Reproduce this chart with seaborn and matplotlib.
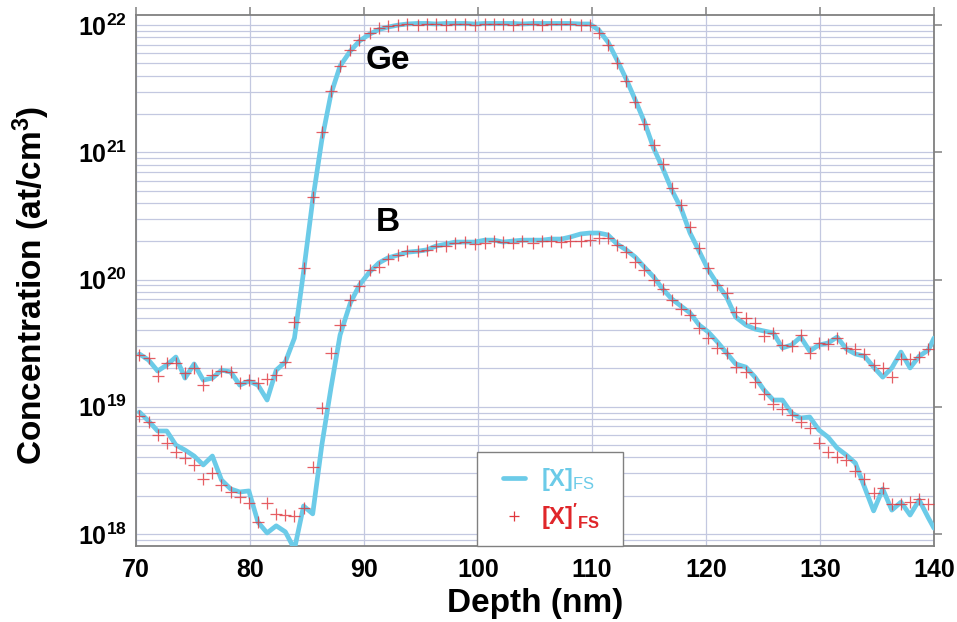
import numpy as np
import pandas as pd
import matplotlib
matplotlib.use("Agg")
import matplotlib.pyplot as plt
from matplotlib.ticker import FixedLocator, LogLocator, NullFormatter
from matplotlib.lines import Line2D
from matplotlib.legend_handler import HandlerLine2D
import seaborn as sns

# ---- depth profile data (nm, at/cm^3) ----
depth = [70.3, 71.1, 71.9, 72.7, 73.5, 74.3, 75.1, 75.9, 76.7, 77.5, 78.3, 79.1, 79.9, 80.7,
         81.5, 82.3, 83.1, 83.9, 84.7, 85.5, 86.3, 87.1,
         87.9, 88.8, 89.6, 90.5, 91.3, 92.1, 93.0, 93.8, 94.7, 95.5, 96.3, 97.2, 98.0, 98.9,
         99.7, 100.6, 101.4, 102.2, 103.1, 103.9, 104.8, 105.6, 106.4, 107.3, 108.1, 109.0, 109.8,
         110.6, 111.4, 112.2, 113.0, 113.8, 114.6, 115.4, 116.2, 117.0, 117.8, 118.6, 119.4,
         120.2, 121.0, 121.8, 122.6, 123.5, 124.3, 125.1, 125.9, 126.7, 127.5, 128.3, 129.1,
         129.9, 130.7, 131.5, 132.3, 133.1, 133.9, 134.7, 135.5, 136.3, 137.1, 137.9, 138.7,
         139.5, 140.0]

ge_fs = [2.60e19, 2.33e19, 1.91e19, 2.13e19, 2.46e19, 1.68e19, 2.17e19, 1.62e19, 1.68e19, 1.94e19,
         1.88e19, 1.48e19, 1.59e19, 1.48e19, 1.13e19, 1.94e19, 2.25e19, 3.47e19, 1.15e20, 4.21e20,
         1.25e21, 2.87e21, 4.76e21, 6.25e21, 7.49e21, 8.50e21, 9.22e21, 9.64e21, 1.00e22,
         1.02e22, 1.03e22, 1.03e22, 1.02e22, 1.03e22, 1.03e22, 1.03e22, 1.02e22, 1.03e22, 1.03e22,
         1.03e22, 1.03e22, 1.02e22, 1.03e22, 1.03e22, 1.03e22, 1.03e22, 1.03e22, 1.02e22, 1.02e22,
         9.13e21, 7.35e21, 5.31e21, 3.76e21, 2.57e21, 1.73e21, 1.08e21, 7.52e20, 5.05e20, 3.65e20,
         2.32e20, 1.67e20, 1.19e20, 9.20e19, 7.30e19, 5.07e19, 4.39e19, 4.08e19, 3.94e19, 3.80e19,
         2.90e19, 3.06e19, 3.53e19, 2.74e19, 3.06e19, 3.17e19, 3.53e19, 2.85e19, 2.60e19, 2.50e19,
         2.05e19, 1.71e19, 2.02e19, 2.69e19, 2.02e19, 2.50e19, 2.79e19, 3.47e19]

ge_fs_prime = [2.55e19, 2.42e19, 1.75e19, 2.21e19, 2.20e19, 1.84e19, 2.02e19, 1.48e19, 1.78e19, 1.91e19,
               1.88e19, 1.54e19, 1.62e19, 1.54e19, 1.65e19, 1.78e19, 2.25e19, 4.63e19, 1.23e20, 4.45e20,
               1.44e21, 3.03e21, 4.76e21, 6.36e21, 7.62e21, 8.65e21, 9.47e21, 9.82e21, 1.00e22,
               1.02e22, 1.01e22, 1.02e22, 1.02e22, 1.01e22, 1.02e22, 1.02e22, 1.01e22, 1.02e22, 1.02e22,
               1.02e22, 1.01e22, 1.02e22, 1.02e22, 1.01e22, 1.02e22, 1.02e22, 1.02e22, 1.01e22, 1.00e22,
               8.70e21, 6.97e21, 5.03e21, 3.63e21, 2.48e21, 1.67e21, 1.14e21, 8.09e20, 5.24e20, 3.85e20,
               2.59e20, 1.77e20, 1.23e20, 9.05e19, 7.83e19, 5.55e19, 4.98e19, 4.55e19, 3.60e19, 3.80e19,
               3.06e19, 3.00e19, 3.66e19, 2.65e19, 3.17e19, 3.11e19, 3.47e19, 2.90e19, 2.85e19, 2.60e19,
               2.13e19, 2.02e19, 1.71e19, 2.37e19, 2.37e19, 2.46e19, 2.84e19, np.nan]

b_fs = [9.09e18, 7.73e18, 6.45e18, 6.45e18, 5.00e18, 4.57e18, 4.10e18, 3.49e18, 4.10e18, 2.66e18,
        2.26e18, 2.14e18, 2.18e18, 1.24e18, 1.02e18, 1.16e18, 1.04e18, 7.60e17, 1.66e18, 1.44e18,
        5.00e18, 1.40e19, 3.66e19, 6.54e19, 9.05e19, 1.15e20, 1.35e20, 1.48e20, 1.56e20, 1.64e20,
        1.67e20, 1.71e20, 1.83e20, 1.90e20, 1.97e20, 1.97e20, 1.97e20, 2.04e20, 2.04e20, 1.97e20,
        2.01e20, 2.04e20, 2.04e20, 2.04e20, 2.08e20, 2.08e20, 2.16e20, 2.28e20, 2.32e20, 2.32e20,
        2.24e20, 1.90e20, 1.71e20, 1.50e20, 1.25e20, 1.05e20, 8.42e19, 7.03e19, 6.19e19, 5.46e19,
        4.39e19, 3.87e19, 3.23e19, 2.65e19, 2.17e19, 2.05e19, 1.71e19, 1.35e19, 1.13e19, 1.13e19,
        8.93e18, 8.16e18, 8.31e18, 6.57e18, 5.78e18, 4.74e18, 4.18e18, 3.61e18, 2.34e18, 1.52e18,
        2.26e18, 1.54e18, 1.78e18, 1.41e18, 1.85e18, 1.34e18, 1.11e18]

b_fs_prime = [8.46e18, 7.59e18, 6.00e18, 5.19e18, 4.41e18, 3.96e18, 3.49e18, 2.70e18, 3.00e18, 2.43e18,
              2.14e18, 1.95e18, 1.75e18, 1.24e18, 1.75e18, 1.44e18, 1.41e18, 1.39e18, 1.60e18, 3.36e18,
              9.78e18, 2.65e19, 4.39e19, 6.90e19, 8.89e19, 1.19e20, 1.25e20, 1.45e20, 1.56e20, 1.67e20,
              1.67e20, 1.71e20, 1.83e20, 1.83e20, 1.94e20, 1.97e20, 1.90e20, 1.94e20, 2.01e20, 1.97e20,
              1.94e20, 2.01e20, 1.94e20, 2.01e20, 2.01e20, 1.97e20, 2.01e20, 2.01e20, 2.04e20, 2.12e20,
              2.12e20, 1.87e20, 1.64e20, 1.37e20, 1.19e20, 9.90e19, 8.42e19, 6.90e19, 5.86e19, 5.26e19,
              4.16e19, 3.47e19, 2.90e19, 2.65e19, 2.05e19, 1.87e19, 1.56e19, 1.26e19, 1.05e19, 9.60e18,
              8.60e18, 7.59e18, 6.81e18, 5.19e18, 4.41e18, 4.03e18, 3.82e18, 3.13e18, 2.70e18, 2.10e18,
              2.30e18, 1.72e18, 1.72e18, 1.78e18, 1.88e18, 1.72e18, np.nan]

x_ticks = [70, 80, 90, 100, 110, 120, 130, 140]
x_tick_labels = ["70", "80", "90", "100", "110", "120", "130", "140"]
y_ticks = [1e18, 1e19, 1e20, 1e21, 1e22]
y_tick_labels = [r"$\mathbf{10}^{\mathbf{18}}$", r"$\mathbf{10}^{\mathbf{19}}$",
                 r"$\mathbf{10}^{\mathbf{20}}$", r"$\mathbf{10}^{\mathbf{21}}$",
                 r"$\mathbf{10}^{\mathbf{22}}$"]
species_labels = {"Ge": (90.1, 5.3e21), "B": (91.0, 2.83e20)}
legend_labels = [r"$\mathbf{[X]}_{\mathrm{FS}}$", r"$\mathbf{[X]'}_{\mathbf{FS}}$"]

# ---- styling ----
sns.set_theme(style="white")
plt.rcParams["font.family"] = ["Liberation Sans", "DejaVu Sans"]
plt.rcParams["mathtext.fontset"] = "custom"
plt.rcParams["mathtext.rm"] = "Liberation Sans"
plt.rcParams["mathtext.bf"] = "Liberation Sans:bold"
plt.rcParams["mathtext.it"] = "Liberation Sans:italic"
plt.rcParams["mathtext.fallback"] = "stix"
plt.rcParams["text.color"] = "black"
plt.rcParams["axes.labelcolor"] = "black"

LINE_C = "#6ccbe8"
MARK_C = "#e0363c"
GRID_C = "#c3c8e0"
SPINE_C = "#808080"

df = pd.DataFrame({"depth": depth, "ge": ge_fs, "ge_p": ge_fs_prime, "b": b_fs, "b_p": b_fs_prime})

fig = plt.figure(figsize=(9.57, 6.22), dpi=100)
ax = fig.add_axes([0.1421, 0.1222, 0.8339, 0.8537])

for col in ["ge", "b"]:
    sns.lineplot(data=df, x="depth", y=col, ax=ax, color=LINE_C, linewidth=3.4,
                 sort=False, estimator=None, zorder=3, legend=False)
for col in ["ge_p", "b_p"]:
    sns.scatterplot(data=df.dropna(subset=[col]), x="depth", y=col, ax=ax, marker="+",
                    s=64, color=MARK_C, linewidth=0.9, alpha=0.8, zorder=4, legend=False)

ax.set_yscale("log")
ax.set_xlim(70, 140)
ax.set_ylim(8.05e17, 1.2e22)

ax.xaxis.set_major_locator(FixedLocator(x_ticks))
ax.set_xticklabels(x_tick_labels, fontsize=18, fontweight="bold")
ax.yaxis.set_major_locator(FixedLocator(y_ticks))
ax.set_yticklabels(y_tick_labels, fontsize=18)
ax.yaxis.set_minor_locator(LogLocator(base=10, subs=np.arange(2, 10)))
ax.yaxis.set_minor_formatter(NullFormatter())

ax.grid(True, which="major", axis="x", color=GRID_C, linewidth=0.9)
ax.grid(True, which="both", axis="y", color=GRID_C, linewidth=0.9)
ax.set_axisbelow(True)

ax.tick_params(which="major", direction="out", length=6, width=1.1, color=SPINE_C,
               labelcolor="black", top=True, right=True, labeltop=False, labelright=False)
ax.tick_params(axis="y", which="major", pad=0.5)
ax.tick_params(axis="x", which="major", pad=3)
ax.tick_params(which="minor", length=0)
for s in ax.spines.values():
    s.set_color(SPINE_C)
    s.set_linewidth(1.3)

ax.set_xlabel("Depth (nm)", fontsize=24, fontweight="bold", labelpad=4, color="black")
ax.set_ylabel(r"Concentration (at/cm$^{\mathbf{3}}$)", fontsize=24, fontweight="bold", color="black")
ax.yaxis.set_label_coords(-0.105, 0.49)

for name, (xx, yy) in species_labels.items():
    ax.text(xx, yy, name, fontsize=24, fontweight="bold", ha="left", va="center", color="black", zorder=5)

handles = [Line2D([], [], color=LINE_C, linewidth=3.4),
           Line2D([], [], color=MARK_C, marker="+", linestyle="none", markersize=7, markeredgewidth=0.9)]
leg = ax.legend(handles, legend_labels, loc="lower left",
                bbox_to_anchor=(0.427, 0.0, 0.183, 0.177), mode="expand",
                frameon=True, fancybox=False, shadow=False, fontsize=17,
                handlelength=1.45, handletextpad=0.65, borderpad=0.6, borderaxespad=0.0,
                labelspacing=0.35,
                handler_map={Line2D: HandlerLine2D(xpad=0.5)})
leg.get_frame().set_edgecolor(SPINE_C)
leg.get_frame().set_linewidth(1.0)
leg.get_frame().set_facecolor("white")
leg.get_frame().set_alpha(1.0)
leg.get_texts()[0].set_color(LINE_C)
leg.get_texts()[1].set_color("#e0262a")
leg.set_zorder(6)

fig.savefig("out.png", dpi=100)
